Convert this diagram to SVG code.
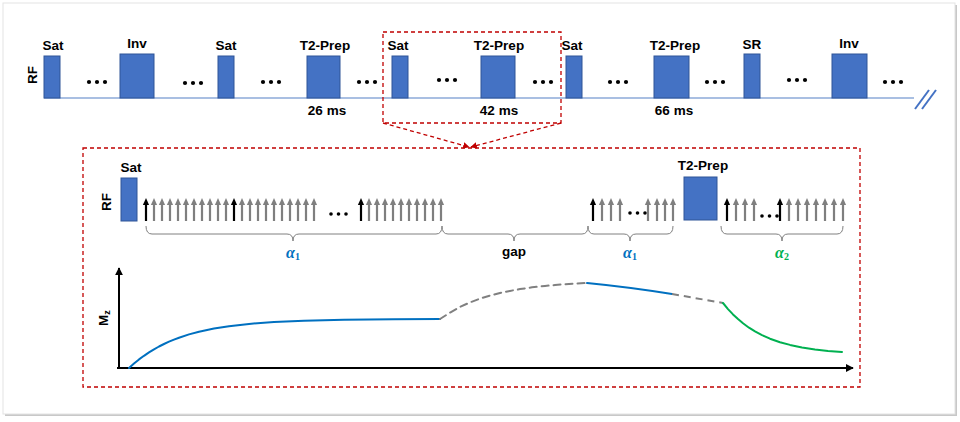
<svg xmlns="http://www.w3.org/2000/svg" width="960" height="422" viewBox="0 0 960 422">
<style>
.t{font-family:"Liberation Sans",Arial,sans-serif;font-weight:bold;font-size:13.5px;fill:#000}
.blk{fill:#4472C4;stroke:#2F5597;stroke-width:1}
.dot{fill:#000}
.red{fill:none;stroke:#C00000;stroke-width:1.3;stroke-dasharray:4 3}
.br{fill:none;stroke:#808080;stroke-width:1}
.al{font-family:"Liberation Serif","DejaVu Serif",serif;font-weight:bold;font-style:italic;font-size:16px}
.sub{font-style:normal;font-size:10px}
.cv{fill:none;stroke-width:2;stroke-linejoin:round;stroke-linecap:round}
</style>
<defs>
<g id="ag"><line x1="0" y1="0" x2="0" y2="-17" stroke="#7F7F7F" stroke-width="2.2"/><path d="M-3.1,-16 L0,-23 L3.1,-16Z" fill="#7F7F7F"/></g>
<g id="ab"><line x1="0" y1="0" x2="0" y2="-17" stroke="#000" stroke-width="2.2"/><path d="M-3.1,-16 L0,-23 L3.1,-16Z" fill="#000"/></g>
<g id="d3"><circle cx="2" cy="0" r="2.1"/><circle cx="10" cy="0" r="2.1"/><circle cx="18" cy="0" r="2.1"/></g>
<g id="d3s"><circle cx="2" cy="0" r="1.8"/><circle cx="9.5" cy="0" r="1.8"/><circle cx="17" cy="0" r="1.8"/></g>
<marker id="ar" viewBox="0 0 10 10" refX="9" refY="5" markerWidth="5" markerHeight="5" orient="auto"><path d="M0,0 L10,5 L0,10Z" fill="#C00000"/></marker>
<marker id="ak" viewBox="0 0 10 10" refX="9" refY="5" markerWidth="4" markerHeight="4" orient="auto"><path d="M0,0 L10,5 L0,10Z" fill="#000"/></marker>
</defs>
<rect x="0" y="0" width="960" height="422" fill="#fff"/>
<rect x="5" y="5" width="952" height="411" fill="#C8C8C8"/>
<rect x="3" y="3" width="952" height="411" fill="#fff" stroke="#E3E3E3" stroke-width="1"/>

<!-- top sequence -->
<g id="top-seq">
<line x1="44" y1="98" x2="914" y2="98" stroke="#A9BFE2" stroke-width="2"/>
<text class="t" transform="translate(37,75) rotate(-90)" text-anchor="middle">RF</text>
<g id="t-sat1"><rect class="blk" x="44" y="56" width="16" height="42"/><text class="t" x="53" y="50" text-anchor="middle">Sat</text></g>
<g id="t-inv1"><rect class="blk" x="120" y="54" width="34" height="44"/><text class="t" x="137" y="48" text-anchor="middle">Inv</text></g>
<g id="t-sat2"><rect class="blk" x="218" y="56" width="16" height="42"/><text class="t" x="226" y="50" text-anchor="middle">Sat</text></g>
<g id="t-t2p1"><rect class="blk" x="307" y="56" width="33" height="42"/><text class="t" x="325" y="50" text-anchor="middle">T2-Prep</text><text class="t" x="327" y="115" text-anchor="middle">26 ms</text></g>
<g id="t-sat3"><rect class="blk" x="392" y="56" width="16" height="42"/><text class="t" x="398" y="50" text-anchor="middle">Sat</text></g>
<g id="t-t2p2"><rect class="blk" x="481" y="56" width="34" height="42"/><text class="t" x="499" y="50" text-anchor="middle">T2-Prep</text><text class="t" x="499" y="115" text-anchor="middle">42 ms</text></g>
<g id="t-sat4"><rect class="blk" x="566" y="56" width="16" height="42"/><text class="t" x="572" y="50" text-anchor="middle">Sat</text></g>
<g id="t-t2p3"><rect class="blk" x="654" y="56" width="35" height="42"/><text class="t" x="675" y="50" text-anchor="middle">T2-Prep</text><text class="t" x="674" y="115" text-anchor="middle">66 ms</text></g>
<g id="t-sr"><rect class="blk" x="744" y="54" width="16" height="44"/><text class="t" x="752" y="49" text-anchor="middle">SR</text></g>
<g id="t-inv2"><rect class="blk" x="832" y="54" width="35" height="44"/><text class="t" x="849" y="48" text-anchor="middle">Inv</text></g>
<g class="dot">
<use href="#d3" x="87" y="82"/><use href="#d3" x="183" y="83"/><use href="#d3" x="261" y="82"/><use href="#d3" x="357" y="82"/><use href="#d3" x="437" y="80"/><use href="#d3" x="533" y="82"/><use href="#d3" x="608" y="82"/><use href="#d3" x="705" y="82"/><use href="#d3" x="787" y="80"/><use href="#d3" x="883" y="82"/>
</g>
<line x1="915" y1="109" x2="929" y2="90" stroke="#4472C4" stroke-width="2"/>
<line x1="922" y1="109" x2="936" y2="90" stroke="#4472C4" stroke-width="2"/>
</g>

<!-- connectors -->
<g id="connectors">
<rect class="red" x="383" y="32" width="178" height="91"/>
<line class="red" x1="383" y1="123" x2="469" y2="147" marker-end="url(#ar)"/>
<line class="red" x1="561" y1="123" x2="471" y2="147" marker-end="url(#ar)"/>
</g>

<!-- detail box -->
<g id="detail">
<rect class="red" x="83" y="148" width="777" height="239"/>
<text class="t" transform="translate(111,202) rotate(-90)" text-anchor="middle">RF</text>
<g id="d-sat"><rect class="blk" x="121" y="178" width="16" height="43"/><text class="t" x="131" y="172" text-anchor="middle">Sat</text></g>
<g id="d-t2p"><rect class="blk" x="684" y="177" width="33" height="43"/><text class="t" x="703" y="170" text-anchor="middle">T2-Prep</text></g>
<g id="pulses">
<use href="#ab" x="146" y="221"/>
<use href="#ag" x="154" y="221"/><use href="#ag" x="162" y="221"/><use href="#ag" x="170" y="221"/><use href="#ag" x="178" y="221"/><use href="#ag" x="186" y="221"/><use href="#ag" x="194" y="221"/><use href="#ag" x="202" y="221"/><use href="#ag" x="210" y="221"/><use href="#ag" x="218" y="221"/><use href="#ag" x="226" y="221"/>
<use href="#ab" x="234" y="221"/>
<use href="#ag" x="242" y="221"/><use href="#ag" x="250" y="221"/><use href="#ag" x="258" y="221"/><use href="#ag" x="266" y="221"/><use href="#ag" x="274" y="221"/><use href="#ag" x="282" y="221"/><use href="#ag" x="290" y="221"/><use href="#ag" x="298" y="221"/><use href="#ag" x="306" y="221"/><use href="#ag" x="314" y="221"/>
<use href="#d3s" x="329" y="214" class="dot"/>
<use href="#ab" x="361" y="221"/>
<use href="#ag" x="369" y="221"/><use href="#ag" x="377" y="221"/><use href="#ag" x="385" y="221"/><use href="#ag" x="393" y="221"/><use href="#ag" x="401" y="221"/><use href="#ag" x="409" y="221"/><use href="#ag" x="417" y="221"/><use href="#ag" x="425" y="221"/><use href="#ag" x="433" y="221"/><use href="#ag" x="441" y="221"/>

<use href="#ab" x="593" y="221"/>
<use href="#ag" x="602" y="221"/><use href="#ag" x="611" y="221"/><use href="#ag" x="620" y="221"/>
<use href="#d3s" x="628" y="213" class="dot"/>
<use href="#ag" x="648" y="221"/><use href="#ag" x="657" y="221"/><use href="#ag" x="665" y="221"/><use href="#ag" x="673" y="221"/>

<use href="#ab" x="727" y="221"/>
<use href="#ag" x="736" y="221"/><use href="#ag" x="745" y="221"/><use href="#ag" x="754" y="221"/>
<use href="#d3s" x="760" y="216" class="dot"/>
<use href="#ab" x="780" y="221"/>
<use href="#ag" x="789" y="221"/><use href="#ag" x="798" y="221"/><use href="#ag" x="807" y="221"/><use href="#ag" x="816" y="221"/><use href="#ag" x="825" y="221"/><use href="#ag" x="834" y="221"/><use href="#ag" x="843" y="221"/>
</g>
<g id="braces">
<path class="br" d="M146,226 Q146,234 152,234 L287,234 Q293,234 293,241 Q293,234 299,234 L436,234 Q442,234 442,226"/>
<path class="br" d="M442,226 Q442,234 448,234 L508,234 Q514,234 514,241 Q514,234 520,234 L582,234 Q588,234 588,226"/>
<path class="br" d="M588,226 Q588,234 594,234 L624,234 Q630,234 630,241 Q630,234 636,234 L667,234 Q673,234 673,226"/>
<path class="br" d="M721,226 Q721,234 727,234 L776,234 Q782,234 782,241 Q782,234 788,234 L837,234 Q843,234 843,226"/>
<text class="al" x="293" y="258" text-anchor="middle" fill="#0070C0">α<tspan class="sub" dy="2">1</tspan></text>
<text class="t" x="514" y="256" text-anchor="middle">gap</text>
<text class="al" x="630" y="258" text-anchor="middle" fill="#0070C0">α<tspan class="sub" dy="2">1</tspan></text>
<text class="al" x="782" y="258" text-anchor="middle" fill="#00B050">α<tspan class="sub" dy="2">2</tspan></text>
</g>
<g id="mz-plot">
<line x1="119" y1="368" x2="119" y2="268" stroke="#000" stroke-width="2" marker-end="url(#ak)"/>
<line x1="117" y1="368" x2="853" y2="368" stroke="#000" stroke-width="2" marker-end="url(#ak)"/>
<text class="t" transform="translate(108,318) rotate(-90)" text-anchor="middle">M<tspan font-size="9" dy="2">z</tspan></text>
<polyline class="cv" stroke="#0070C0" points="129,368 134,363.5 139,359.4 144,355.8 149,352.4 154,349.3 159,346.5 164,344 169,341.7 174,339.6 179,337.7 189,334.4 199,331.7 214,328.6 229,326.2 249,323.9 274,322 304,320.7 344,319.8 394,319.3 440,319"/>
<polyline class="cv" stroke="#808080" stroke-dasharray="7 5" stroke-linecap="butt" points="440,319 450,312.6 460,306.9 470,302.4 480,298.6 490,295.6 500,293 510,290.9 520,289.1 532,287.3 545,285.9 555,285 565,284.2 576,283.5 587,283"/>
<path class="cv" stroke="#0070C0" d="M587,283 Q628,287 672,294"/>
<line x1="672" y1="294" x2="723" y2="303" stroke="#808080" stroke-width="2" stroke-dasharray="7 5"/>
<polyline class="cv" stroke="#00B050" points="723,303 728,309.1 733,314.4 738,319.1 743,323.3 749,327.7 755,331.4 762,335.1 770,338.7 780,342.2 790,344.9 802,347.4 815,349.4 828,350.9 842,352"/>
</g>
</g>
</svg>
